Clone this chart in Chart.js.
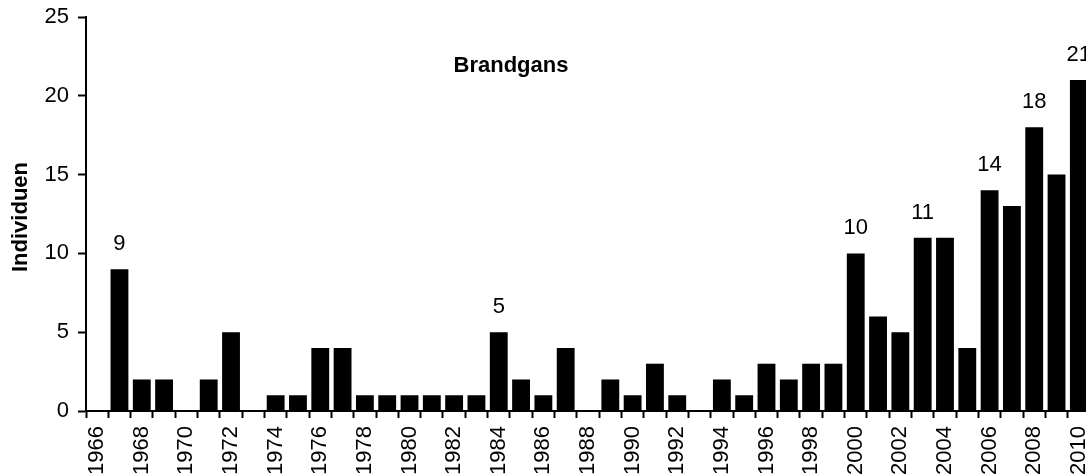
<!DOCTYPE html>
<html>
<head>
<meta charset="utf-8">
<script src="https://cdn.jsdelivr.net/npm/chart.js@4.4.1/dist/chart.umd.min.js"></script>
<style>
  html, body { margin: 0; padding: 0; background: #fff; overflow: hidden; }
  #wrap { position: relative; width: 1090px; height: 475px; }
</style>
</head>
<body>
<div id="wrap"><canvas id="c"></canvas></div>
<script>
const years = ["1966","1967","1968","1969","1970","1971","1972","1973","1974","1975",
  "1976","1977","1978","1979","1980","1981","1982","1983","1984","1985",
  "1986","1987","1988","1989","1990","1991","1992","1993","1994","1995",
  "1996","1997","1998","1999","2000","2001","2002","2003","2004","2005",
  "2006","2007","2008","2009","2010"];
const counts = [0, 9, 2, 2, 0, 2, 5, 0, 1, 1,
  4, 4, 1, 1, 1, 1, 1, 1, 5, 2,
  1, 4, 0, 2, 1, 3, 1, 0, 2, 1,
  3, 2, 3, 3, 10, 6, 5, 11, 11, 4,
  14, 13, 18, 15, 21];
const tickLabels = ["1966","","1968","","1970","","1972","","1974","",
  "1976","","1978","","1980","","1982","","1984","",
  "1986","","1988","","1990","","1992","","1994","",
  "1996","","1998","","2000","","2002","","2004","",
  "2006","","2008","","2010"];
const valueLabels = [null,"9",null,null,null,null,null,null,null,null,
  null,null,null,null,null,null,null,null,"5",null,
  null,null,null,null,null,null,null,null,null,null,
  null,null,null,null,"10",null,null,"11",null,null,
  "14",null,"18",null,"21"];
const chartTitle = "Brandgans";
const yTitle = "Individuen";

const FONT = "'Liberation Sans', Arial, sans-serif";

const annotate = {
  id: 'annotate',
  afterDatasetsDraw(chart) {
    const ctx = chart.ctx;
    const meta = chart.getDatasetMeta(0);
    ctx.save();
    ctx.fillStyle = '#000';
    ctx.font = '22px ' + FONT;
    ctx.textAlign = 'center';
    ctx.textBaseline = 'alphabetic';
    meta.data.forEach((bar, i) => {
      const t = valueLabels[i];
      if (t) ctx.fillText(t, bar.x, bar.y - 19);
    });
    ctx.font = 'bold 22px ' + FONT;
    ctx.fillText(chartTitle, 511, 72);
    ctx.translate(27, 217);
    ctx.rotate(-Math.PI / 2);
    ctx.fillText(yTitle, 0, 0);
    ctx.restore();
  }
};

new Chart(document.getElementById('c'), {
  type: 'bar',
  data: {
    labels: years,
    datasets: [{
      data: counts,
      backgroundColor: '#000',
      borderWidth: 0,
      categoryPercentage: 1.0,
      barPercentage: 0.8
    }]
  },
  options: {
    responsive: true,
    maintainAspectRatio: false,
    animation: false,
    layout: { padding: { top: 17, left: 0, right: 0, bottom: 0 } },
    plugins: { legend: { display: false }, tooltip: { enabled: false }, title: { display: false } },
    scales: {
      x: {
        offset: true,
        grid: { offset: true, drawOnChartArea: false, drawTicks: true, tickLength: 7, tickColor: '#000', tickWidth: 2 },
        border: { display: true, color: '#000', width: 2 },
        ticks: {
          autoSkip: false, maxRotation: 90, minRotation: 90, padding: 8,
          color: '#000', font: { family: FONT, size: 22 },
          callback: (v, i) => tickLabels[i]
        },
        afterFit(s) { s.height = 64; s.paddingLeft = 0; s.paddingRight = 0; }
      },
      y: {
        min: 0, max: 25,
        grid: { drawOnChartArea: false, drawTicks: true, tickLength: 8, tickColor: '#000', tickWidth: 2 },
        border: { display: true, color: '#000', width: 2 },
        ticks: { stepSize: 5, padding: 9, color: '#000', font: { family: FONT, size: 22 } },
        afterFit(s) { s.width = 86; s.paddingTop = 0; s.paddingBottom = 0; }
      }
    }
  },
  plugins: [annotate]
});
</script>
</body>
</html>
